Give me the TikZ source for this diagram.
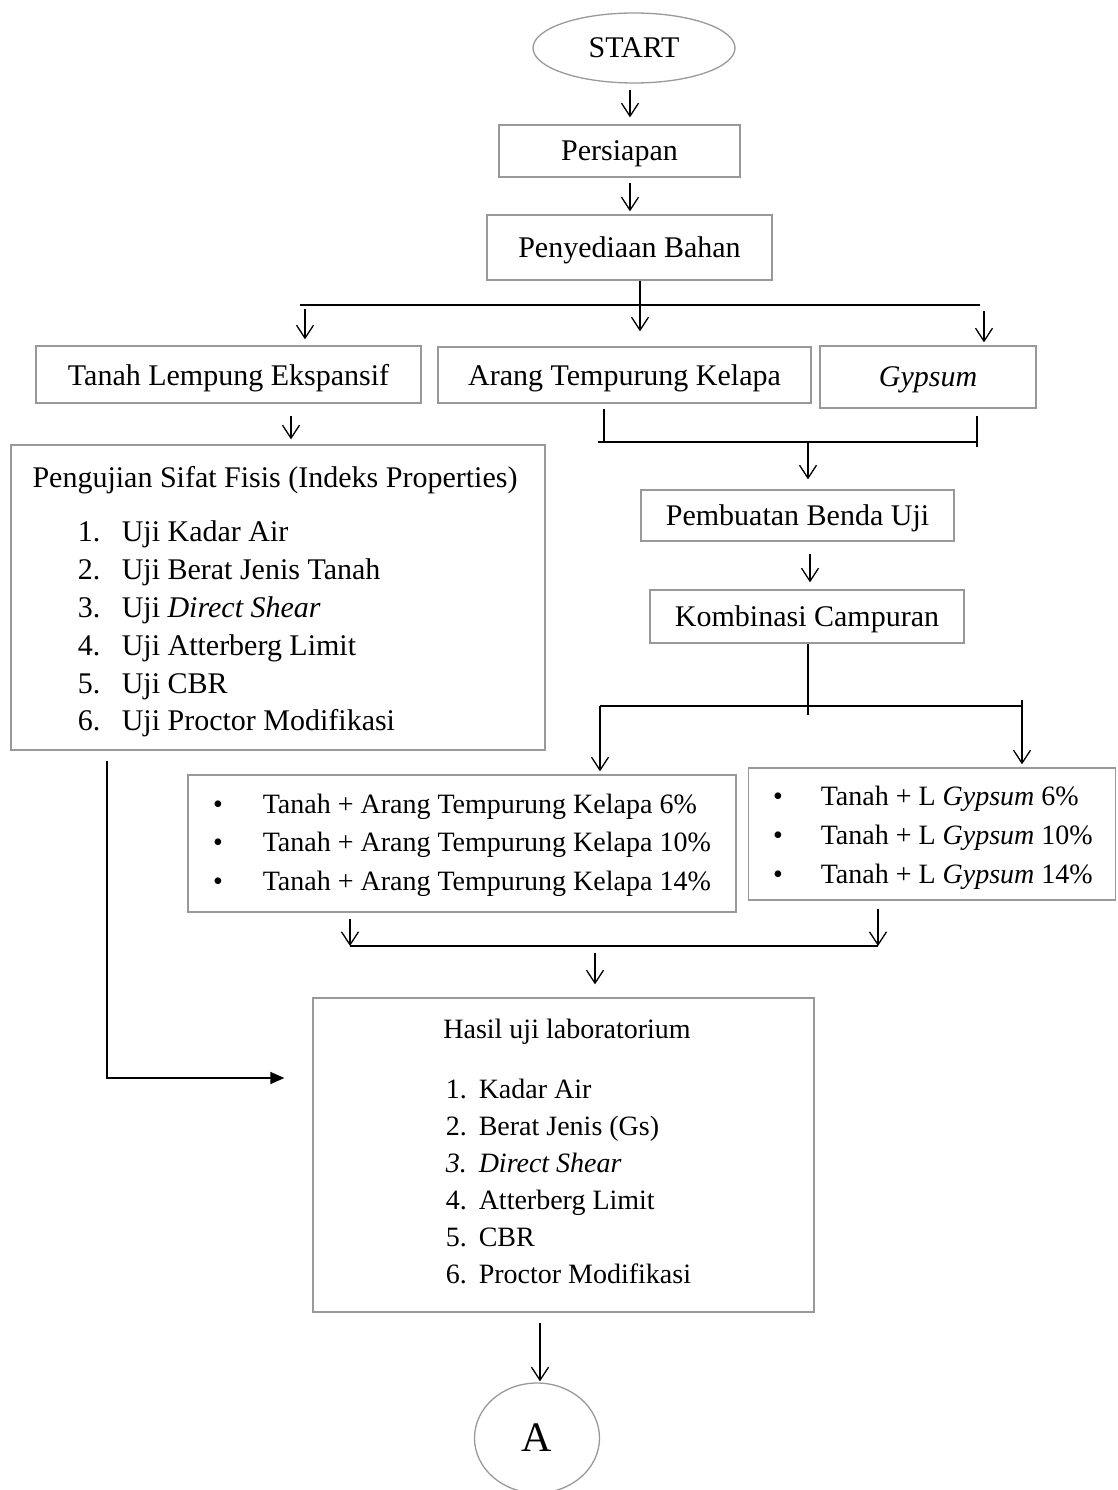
\documentclass[tikz,border=0pt]{standalone}
\usepackage{fontspec}
\setmainfont{Liberation Serif}
\usetikzlibrary{arrows.meta, positioning, shapes}
\tikzset{
        box/.style={draw=black!40, rectangle, inner sep=0pt, line width=1.3pt, text depth=0pt}, % grey frame of every step
        arr/.style={-{Straight Barb[length=13pt,width=17pt,line width=1.3pt]}}, % open arrow head
        item/.style={inner sep=0pt, anchor=base west},
        small/.style={font=\fontsize{28}{36}\selectfont},
    }
\tikzstyle{bulat}=[draw=black!40,ellipse,inner sep=0pt,line width=1.3pt,text depth=0pt]

\begin{document}
\begin{tikzpicture}[x=1pt, y=-1pt, font=\fontsize{30}{38}\selectfont, line width=1.5pt]
    \useasboundingbox (0,0) rectangle (1117,1490);

    \node[bulat, minimum width=202, minimum height=70] (start) at (634,48) {START};
    \node[box, minimum width=241, minimum height=52] (persiapan) at (619.5,151) {Persiapan};
    \node[box, minimum width=285, minimum height=65] (bahan) at (629.5,247.5) {Penyediaan Bahan};
    \node[box, minimum width=385, minimum height=57] (tanah) at (228.5,374.5) {Tanah Lempung Ekspansif};
    \node[box, minimum width=373, minimum height=56] (arang) at (624.5,375) {Arang Tempurung Kelapa};
    \node[box, minimum width=216, minimum height=62] (gypsum) at (928,377) {\textit{Gypsum}};
    \node[box, minimum width=534, minimum height=305] (fisis) at (278,597.5) {};
    \node[box, minimum width=313, minimum height=51] (benda) at (797.5,515.5) {Pembuatan Benda Uji};
    \node[box, minimum width=314, minimum height=53] (kombinasi) at (807,616.5) {Kombinasi Campuran};
    \node[box, minimum width=548, minimum height=137] (campurA) at (462,843.5) {};
    \node[box, minimum width=367, minimum height=132] (campurB) at (932,834) {};
    \node[box, minimum width=501, minimum height=314] (hasil) at (563.5,1155) {};
    \node[bulat, minimum width=125, minimum height=110, font=\fontsize{42}{50}\selectfont] (A) at (537,1438) {A};

    % isi kotak
    \node[item, anchor=base] (fisisjudul) at (275,487) {Pengujian Sifat Fisis (Indeks Properties)};
    \foreach \t [count=\i] in {Uji Kadar Air, Uji Berat Jenis Tanah, Uji \textit{Direct Shear},
                               Uji Atterberg Limit, Uji CBR, Uji Proctor Modifikasi} {
        \node[item] (fisisno\i) at (77,504+37.8*\i) {\i.};
        \node[item] (fisis\i) at (121,504+37.8*\i) {\t};
    }
    \foreach \p [count=\i] in {6,10,14} {
        \node[item, small, anchor=base] (butirA\i) at (218,774.5+38.5*\i) {\textbullet};
        \node[item, small] (camA\i) at (262,774.5+38.5*\i) {Tanah + Arang Tempurung Kelapa \p\%};
        \node[item, small, anchor=base] (butirB\i) at (778,766+39*\i) {\textbullet};
        \node[item, small] (camB\i) at (820,766+39*\i) {Tanah + L \textit{Gypsum} \p\%};
    }
    \node[item, small, anchor=base] (hasiljudul) at (567,1038) {Hasil uji laboratorium};
    \foreach \n/\t [count=\i] in {1./Kadar Air, 2./Berat Jenis (Gs), \textit{3.}/\textit{Direct Shear},
                                  4./Atterberg Limit, 5./CBR, 6./Proctor Modifikasi} {
        \node[item, small] (hasilno\i) at (445,1061+37*\i) {\n};
        \node[item, small] (hasil\i) at (478,1061+37*\i) {\t};
    }

    % alur
    \coordinate (cabang) at (640,305);
    \coordinate (cabangA) at (305,309);
    \coordinate (cabangC) at (984,311);
    \coordinate (gabung) at (808,442);
    \coordinate (gabungkiri) at (598,442);
    \coordinate (gabungkanan) at (977,442);
    \coordinate (pisah) at (808,706);
    \coordinate (pisahkiri) at (600,706);
    \coordinate (pisahkanan) at (1022,706);
    \coordinate (satuA) at (350,946);
    \coordinate (satuB) at (878,946);
    \coordinate (satu) at (595,953);

    \draw[arr, shorten <=6pt, shorten >=7pt] (start.south -| 630,0) -- (persiapan.north -| 630,0);
    \draw[arr, shorten <=5pt, shorten >=3pt] (persiapan.south -| 630,0) -- (bahan.north -| 630,0);
    \draw[arr, shorten >=15pt] (bahan.south -| cabang) -- (arang.north -| cabang);
    \draw (300,305) -- (980,305);
    \draw[arr, shorten >=6pt] (cabangA) -- (tanah.north -| cabangA);
    \draw[arr, shorten >=3pt] (cabangC) -- (gypsum.north -| cabangC);
    \draw[arr, shorten <=12pt, shorten >=5pt] (tanah.south -| 291,0) -- (fisis.north -| 291,0);

    \draw[shorten <=5pt] (arang.south -| 604,0) -- (gabungkiri -| 604,0);
    \draw[shorten <=7pt] (gypsum.south -| gabungkanan) -- ([yshift=-5pt]gabungkanan);
    \draw (gabungkiri) -- (gabungkanan);
    \draw[arr, shorten >=10pt] (gabung) -- (benda.north -| gabung);
    \draw[arr, shorten <=12pt, shorten >=7pt] (benda.south -| 810,0) -- (kombinasi.north -| 810,0);

    \draw (kombinasi.south -| pisah) -- ([yshift=-9pt]pisah);
    \draw (pisahkiri) -- (pisahkanan);
    \draw[arr, shorten >=3pt] (pisahkiri) -- (campurA.north -| pisahkiri);
    \draw[arr, shorten >=3pt] ([yshift=6pt]pisahkanan) -- (campurB.north -| pisahkanan);

    \draw[arr, shorten <=6pt] (campurA.south -| satuA) -- (satuA);
    \draw[arr, shorten <=8pt] (campurB.south -| satuB) -- (satuB);
    \draw (satuA) -- (satuB);
    \draw[arr, shorten >=13pt] (satu) -- (hasil.north -| satu);

    \draw[-{Triangle[length=14pt,width=12pt]}, shorten <=10pt, shorten >=28pt] (fisis.south -| 107,0) |- (hasil.west |- 0,1078);
    \draw[arr, shorten <=10pt, shorten >=1pt] (hasil.south -| 540,0) -- (A.north -| 540,0);
\end{tikzpicture}
\end{document}
